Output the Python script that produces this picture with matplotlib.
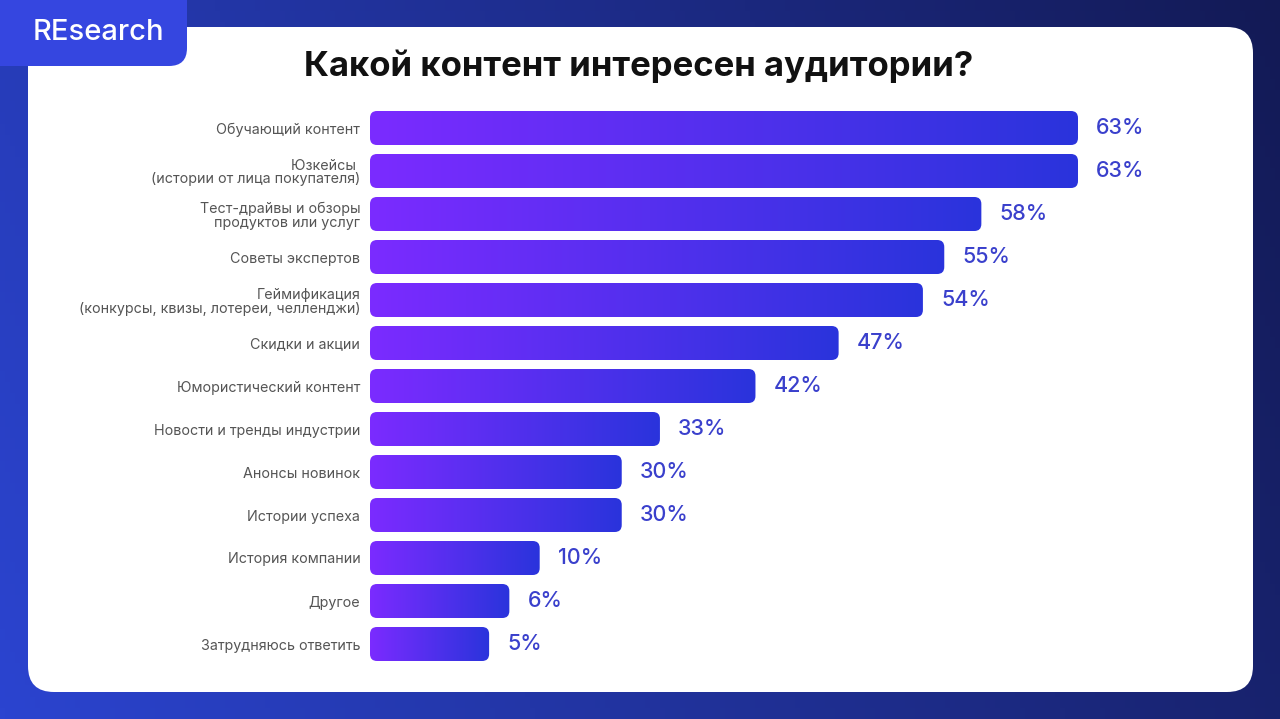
import numpy as np
import matplotlib
matplotlib.use("Agg")
import matplotlib.pyplot as plt
from matplotlib.patches import FancyBboxPatch
from matplotlib.colors import LinearSegmentedColormap

plt.rcParams['font.family'] = ['Inter', 'DejaVu Sans']

# данные опроса
categories = [
    "Обучающий контент",
    "Юзкейсы \n(истории от лица покупателя)",
    "Тест-драйвы и обзоры\nпродуктов или услуг",
    "Советы экспертов",
    "Геймификация\n(конкурсы, квизы, лотереи, челленджи)",
    "Скидки и акции",
    "Юмористический контент",
    "Новости и тренды индустрии",
    "Анонсы новинок",
    "Истории успеха",
    "История компании",
    "Другое",
    "Затрудняюсь ответить",
]
values = [63, 63, 58, 55, 54, 47, 42, 33, 30, 30, 10, 6, 5]
# длина полос как на картинке (она не пропорциональна процентам)
bar_len = [63.0, 63.0, 54.4, 51.1, 49.2, 41.7, 34.3, 25.8, 22.4, 22.4, 15.1, 12.4, 10.6]

title = "Какой контент интересен аудитории?"
brand = "REsearch"

W, H = 1280, 719
fig = plt.figure(figsize=(W / 100, H / 100), dpi=100)

# фон и карточка
bg = fig.add_axes([0, 0, 1, 1])
bg.set_xlim(0, W)
bg.set_ylim(H, 0)
bg.axis("off")
gx = np.linspace(0, 1, 256)
gy = np.linspace(0, 1, 64)
GX, GY = np.meshgrid(gx, gy)
c_left = np.array([0x2b, 0x44, 0xd0]) / 255
c_right = np.array([0x13, 0x1a, 0x55]) / 255
t = np.clip(GX * 0.8 + (1 - GY) * 0.2, 0, 1)[..., None]
bg.imshow(c_left * (1 - t) + c_right * t, extent=(0, W, H, 0), aspect="auto", zorder=0)

card = FancyBboxPatch((28, 27), 1225, 665, boxstyle="round,pad=0,rounding_size=26",
                      facecolor="white", edgecolor="none", zorder=1)
bg.add_patch(card)
tab = FancyBboxPatch((-30, -30), 217, 96, boxstyle="round,pad=0,rounding_size=18",
                     facecolor="#3546e0", edgecolor="none", zorder=2)
bg.add_patch(tab)
bg.text(98, 33, brand, color="white", fontsize=21, fontweight="medium",
        ha="center", va="center", zorder=3)
bg.text(639, 66, title, color="#111111", fontsize=25, fontweight="bold",
        ha="center", va="center", zorder=3)

# ось с полосами: x=0 на 370 px, 63 единицы = 708 px
px = 63 / 708
x0_px, x1_px = 370, 1253
top_px, bot_px = 100, 670
row0_px, row_px = 128, 43
ax = fig.add_axes([x0_px / W, 1 - bot_px / H, (x1_px - x0_px) / W, (bot_px - top_px) / H])
n = len(categories)
xlim = (0, (x1_px - x0_px) * px)
ylim = ((bot_px - row0_px) / row_px, -(row0_px - top_px) / row_px)
ax.patch.set_alpha(0)
for s in ax.spines.values():
    s.set_visible(False)
ax.set_xticks([])
ax.set_yticks(range(n), categories)
ax.tick_params(axis="y", length=0, pad=7, labelsize=10.3, labelcolor="#555555")
for lbl in ax.get_yticklabels():
    lbl.set_linespacing(1.0)

cmap = LinearSegmentedColormap.from_list("bar", ["#7b2bff", "#2a34dc"])
bh = 34 / row_px
grad = np.linspace(0, 1, 256).reshape(1, -1)
for i, (L, v) in enumerate(zip(bar_len, values)):
    patch = FancyBboxPatch((0, i - bh / 2), L, bh,
                           boxstyle=f"round,pad=0,rounding_size={7 * px}",
                           mutation_aspect=(1 / row_px) / px,
                           facecolor="none", edgecolor="none")
    ax.add_patch(patch)
    im = ax.imshow(grad, cmap=cmap, extent=(0, L, i + bh / 2, i - bh / 2),
                   aspect="auto", interpolation="bilinear", zorder=2)
    im.set_clip_path(patch)
    ax.annotate(f"{v}%", xy=(L, i), xytext=(13, 0), textcoords="offset points",
                ha="left", va="center", fontsize=15.5, fontweight="medium",
                color="#3a40cc")

ax.set_xlim(*xlim)
ax.set_ylim(*ylim)

fig.savefig("out.png", dpi=100)
